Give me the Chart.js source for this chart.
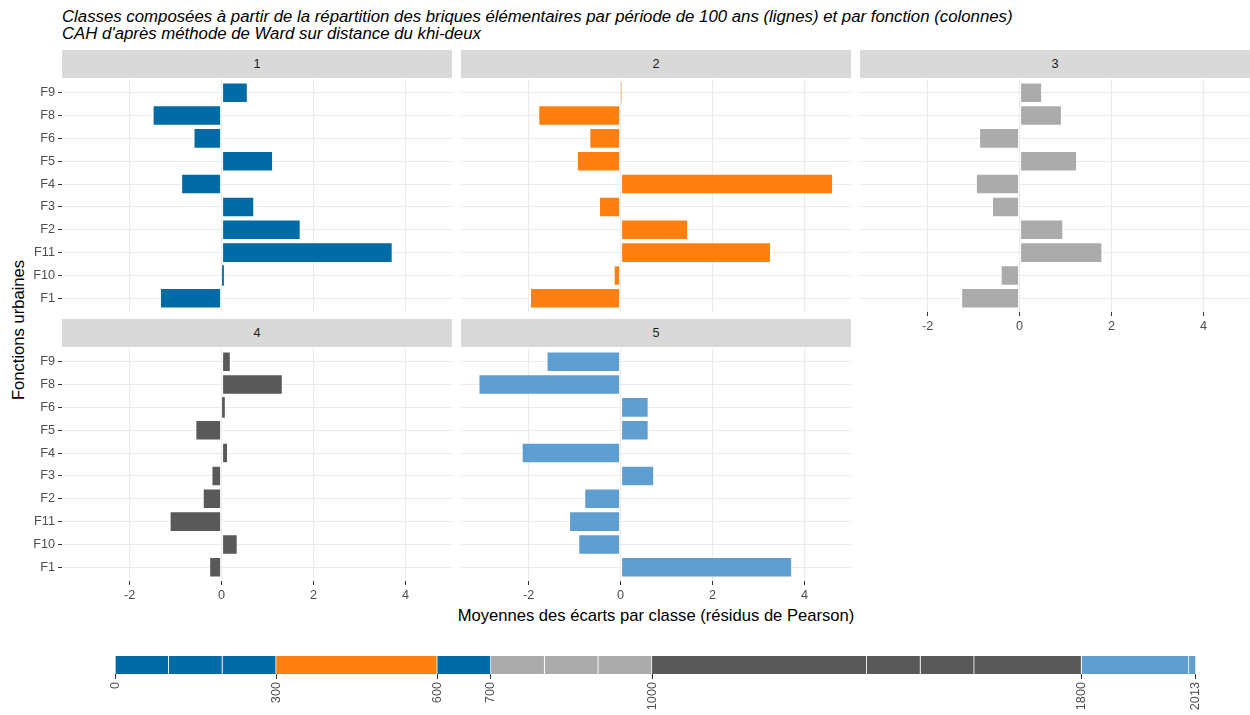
<!DOCTYPE html>
<html>
<head>
<meta charset="utf-8">
<title>Classes CAH</title>
<script src="https://cdn.jsdelivr.net/npm/chart.js@4.4.0/dist/chart.umd.min.js"></script>
<style>
    body { margin: 0; background: #ffffff; font-family: "Liberation Sans", Arial, sans-serif; }
    #page { position: relative; width: 1250px; height: 715px; overflow: hidden; }
    .box { position: absolute; }
    .strip { position: absolute; background: #d9d9d9; color: #1a1a1a; font-size: 12.7px; text-align: center; line-height: 28px; height: 28px; }
    .title { position: absolute; left: 62px; top: 8px; font-size: 16.8px; font-style: italic; line-height: 17px; color: #000; white-space: nowrap; }
    .xtitle { position: absolute; left: 62px; width: 1188px; top: 606px; text-align: center; font-size: 16.6px; color: #000; }
    .ytitle { position: absolute; left: 19px; top: 330px; font-size: 16.6px; color: #000; white-space: nowrap; transform: translate(-50%, -50%) rotate(-90deg); }
</style>
</head>
<body>
<div id="page">
    <div class="title">Classes composées à partir de la répartition des briques élémentaires par période de 100 ans (lignes) et par fonction (colonnes)<br>CAH d'après méthode de Ward sur distance du khi-deux</div>
    <div class="ytitle">Fonctions urbaines</div>
    <div class="xtitle">Moyennes des écarts par classe (résidus de Pearson)</div>
</div>
<script>
// fonctions urbaines, du haut vers le bas
var functions = ["F9", "F8", "F6", "F5", "F4", "F3", "F2", "F11", "F10", "F1"];

// moyennes des résidus par classe
var classe1 = [0.57, -1.50, -0.61, 1.12, -0.88, 0.71, 1.72, 3.72, 0.05, -1.34];
var classe2 = [0.02, -1.79, -0.68, -0.95, 4.62, -0.47, 1.47, 3.27, -0.15, -1.97];
var classe3 = [0.49, 0.92, -0.88, 1.25, -0.95, -0.60, 0.95, 1.80, -0.41, -1.27];
var classe4 = [0.20, 1.33, 0.07, -0.57, 0.14, -0.22, -0.41, -1.13, 0.35, -0.27];
var classe5 = [-1.61, -3.09, 0.61, 0.61, -2.15, 0.73, -0.79, -1.12, -0.92, 3.73];
var classNames = ["1", "2", "3", "4", "5"];
var xTicks = [-2, 0, 2, 4];

// frise chronologique : périodes et classe de chaque période
var periodStart = [0, 100, 200, 300, 600, 700, 800, 900, 1000, 1400, 1500, 1600, 1800, 2000];
var periodEnd = [100, 200, 300, 600, 700, 800, 900, 1000, 1400, 1500, 1600, 1800, 2000, 2013];
var periodClass = [1, 1, 1, 2, 1, 3, 3, 3, 4, 4, 4, 4, 5, 5];
var yearTicks = [0, 300, 600, 700, 1000, 1800, 2013];

var classColors = ["#006ba4", "#ff800e", "#ababab", "#595959", "#5f9ed1"];
var tickFont = { family: "'Liberation Sans', Arial, sans-serif", size: 12.7 };

// disposition des facettes (3 colonnes, 2 lignes)
var colLeft = [62, 461, 860];
var rowTop = [79, 348];
var panelW = 390;
var panelH = 233;
var leftW = 40;
var bottomH = 24;

var page = document.getElementById("page");

function addCanvas(id, left, top, w, h) {
    var c = document.createElement("canvas");
    c.id = id;
    c.className = "box";
    c.width = w;
    c.height = h;
    c.style.left = left + "px";
    c.style.top = top + "px";
    c.style.width = w + "px";
    c.style.height = h + "px";
    page.appendChild(c);
    return c;
}

function addStrip(text, left, top) {
    var d = document.createElement("div");
    d.className = "strip";
    d.style.left = left + "px";
    d.style.top = (top - 29) + "px";
    d.style.width = panelW + "px";
    d.textContent = text;
    page.appendChild(d);
}

// pas de marge automatique autour des axes : la zone de tracé remplit le canvas
function noPadding(s) {
    s.paddingTop = 0;
    s.paddingBottom = 0;
    s.paddingLeft = 0;
    s.paddingRight = 0;
}

function drawPanel(k, values, col, row, showY, showX) {
    var left = colLeft[col] - (showY ? leftW : 0);
    var w = panelW + (showY ? leftW : 0);
    var h = panelH + (showX ? bottomH : 0);
    var canvas = addCanvas("panel" + k, left, rowTop[row], w, h);
    addStrip(classNames[k], colLeft[col], rowTop[row]);

    new Chart(canvas.getContext("2d"), {
        type: "bar",
        data: {
            labels: functions,
            datasets: [{
                data: values,
                backgroundColor: classColors[k],
                borderColor: "rgba(255,255,255,0.5)",
                // pas de contour sur les barres très courtes, sinon elles disparaissent
                borderWidth: function (c) { return Math.abs(c.raw) > 0.1 ? 1 : 0; },
                borderSkipped: false,
                barPercentage: 0.9,
                categoryPercentage: 1
            }]
        },
        options: {
            indexAxis: "y",
            responsive: false,
            animation: false,
            layout: { padding: 0, autoPadding: false },
            plugins: { legend: { display: false }, tooltip: { enabled: false } },
            scales: {
                x: {
                    min: -3.47,
                    max: 5.01,
                    afterBuildTicks: function (s) {
                        s.ticks = xTicks.map(function (v) { return { value: v }; });
                    },
                    afterFit: function (s) {
                        s.height = showX ? bottomH : 0;
                        noPadding(s);
                    },
                    border: { display: false },
                    grid: { color: "#ebebeb", lineWidth: 1, drawTicks: showX, tickLength: 4, tickColor: "#333333" },
                    ticks: { display: showX, color: "#4d4d4d", font: tickFont, padding: 3, maxRotation: 0 }
                },
                y: {
                    offset: true,
                    // expansion discrète de 0.6 de chaque côté
                    afterBuildTicks: function (s) {
                        s._startValue = -0.6;
                        s._valueRange = functions.length - 1 + 1.2;
                    },
                    afterFit: function (s) {
                        s.width = showY ? leftW : 0;
                        noPadding(s);
                    },
                    border: { display: false },
                    grid: { offset: false, color: "#ebebeb", lineWidth: 1, drawTicks: showY, tickLength: 4, tickColor: "#333333" },
                    ticks: { display: showY, color: "#4d4d4d", font: tickFont, padding: 3 }
                }
            }
        }
    });
}

drawPanel(0, classe1, 0, 0, true, false);
drawPanel(1, classe2, 1, 0, false, false);
drawPanel(2, classe3, 2, 0, false, true);
drawPanel(3, classe4, 0, 1, true, true);
drawPanel(4, classe5, 1, 1, false, true);

// frise des périodes colorées par classe
var spanYears = periodEnd[periodEnd.length - 1] - periodStart[0];
var friseSets = periodStart.map(function (s, i) {
    return {
        data: [[s, periodEnd[i]]],
        backgroundColor: classColors[periodClass[i] - 1],
        borderColor: "rgba(255,255,255,0.8)",
        borderWidth: { top: 0, bottom: 0, left: 0, right: 1 },
        borderSkipped: false,
        grouped: false,
        barPercentage: 1,
        categoryPercentage: 1
    };
});
var frise = addCanvas("frise", 61, 656, 1189, 59);
new Chart(frise.getContext("2d"), {
    type: "bar",
    data: { labels: [""], datasets: friseSets },
    options: {
        indexAxis: "y",
        responsive: false,
        animation: false,
        layout: { padding: 0, autoPadding: false },
        plugins: { legend: { display: false }, tooltip: { enabled: false } },
        scales: {
            x: {
                min: periodStart[0] - spanYears * 0.05,
                max: periodEnd[periodEnd.length - 1] + spanYears * 0.05,
                afterBuildTicks: function (s) {
                    s.ticks = yearTicks.map(function (v) { return { value: v }; });
                },
                afterFit: function (s) {
                    s.height = 41;
                    noPadding(s);
                },
                border: { display: false },
                grid: { drawOnChartArea: false, drawTicks: true, tickLength: 5, tickColor: "#333333" },
                ticks: {
                    color: "#4d4d4d", font: tickFont, padding: 3, autoSkip: false, minRotation: 90, maxRotation: 90,
                    callback: function (v) { return String(v); }
                }
            },
            y: { display: false }
        }
    }
});
</script>
</body>
</html>
